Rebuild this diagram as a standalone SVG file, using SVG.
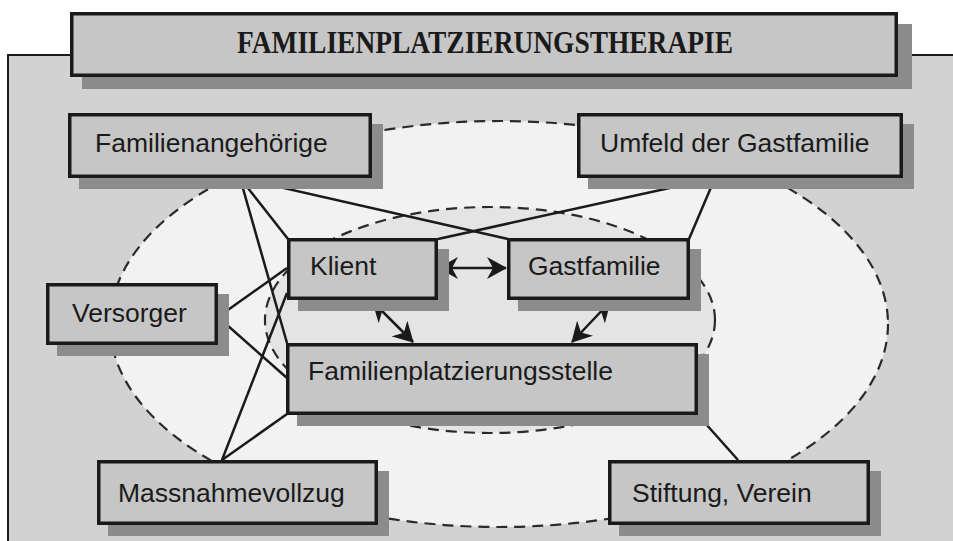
<svg xmlns="http://www.w3.org/2000/svg" width="953" height="541" viewBox="0 0 953 541">
  <defs>
    <style>
      .box { fill: #c6c6c6; stroke: #1a1a1a; stroke-width: 3.5; }
      .shadow { fill: #8c8c8c; stroke: none; }
      .lbl { font-family: "Liberation Sans", Arial, sans-serif; font-size: 26.5px; fill: #1a1a1a; }
      .title { font-family: "Liberation Serif", "Times New Roman", serif; font-size: 31px; font-weight: bold; fill: #1a1a1a; }
      .conn { stroke: #1a1a1a; stroke-width: 2.5; fill: none; }
      .arrow { stroke: #1a1a1a; stroke-width: 2.5; fill: none; marker-start: url(#head); marker-end: url(#head); }
      .dash { fill: none; stroke: #2a2a2a; stroke-width: 2.2; stroke-dasharray: 11 7; }
    </style>
    <marker id="head" viewBox="0 0 20 22" refX="19" refY="11" markerWidth="20" markerHeight="22" markerUnits="userSpaceOnUse" orient="auto-start-reverse">
      <path d="M0,0 L20,11 L0,22 L6,11 z" fill="#1a1a1a"/>
    </marker>
  </defs>

  <rect x="0" y="0" width="953" height="541" fill="#ffffff"/>

  <!-- panel -->
  <g id="panel">
    <rect x="8" y="55" width="960" height="500" fill="#d2d2d2" stroke="#1a1a1a" stroke-width="2"/>
    <ellipse cx="499" cy="324" rx="389" ry="203" fill="#f2f2f2"/>
    <ellipse cx="490" cy="320" rx="225" ry="113" fill="#e4e4e4"/>
    <ellipse class="dash" cx="499" cy="324" rx="389" ry="203"/>
    <ellipse class="dash" cx="490" cy="320" rx="225" ry="113"/>
  </g>

  <!-- connectors -->
  <g id="connectors">
    <line class="conn" x1="240" y1="178" x2="288" y2="239"/>
    <line class="conn" x1="240" y1="178" x2="287" y2="343"/>
    <line class="conn" x1="240" y1="178" x2="508" y2="239"/>
    <line class="conn" x1="715" y1="178" x2="438" y2="239"/>
    <line class="conn" x1="715" y1="178" x2="689" y2="239"/>
    <line class="conn" x1="218" y1="317" x2="287" y2="268"/>
    <line class="conn" x1="218" y1="317" x2="287" y2="378"/>
    <line class="conn" x1="222" y1="460" x2="287" y2="293"/>
    <line class="conn" x1="222" y1="460" x2="287" y2="414"/>
    <line class="conn" x1="697" y1="414" x2="738" y2="460"/>
    <line class="arrow" x1="439" y1="268" x2="506" y2="268"/>
    <line class="arrow" x1="373" y1="302" x2="413" y2="342"/>
    <line class="arrow" x1="610" y1="302" x2="572" y2="342"/>
  </g>

  <!-- title -->
  <g id="title">
    <rect class="shadow" x="82" y="24" width="830" height="65"/>
    <rect class="box" x="71.75" y="13.75" width="824.5" height="61.5"/>
    <text class="title" x="485" y="53" text-anchor="middle" textLength="496" lengthAdjust="spacingAndGlyphs">FAMILIENPLATZIERUNGSTHERAPIE</text>
  </g>

  <g id="familienangehoerige">
    <rect class="shadow" x="79" y="124" width="304" height="65"/>
    <rect class="box" x="69.75" y="114.75" width="300.5" height="61.5"/>
    <text class="lbl" x="95" y="152">Familienangehörige</text>
  </g>

  <g id="umfeld">
    <rect class="shadow" x="588" y="124" width="326" height="65"/>
    <rect class="box" x="578.75" y="114.75" width="322.5" height="61.5"/>
    <text class="lbl" x="600" y="152">Umfeld der Gastfamilie</text>
  </g>

  <g id="klient">
    <rect class="shadow" x="298" y="249" width="151" height="62"/>
    <rect class="box" x="288.75" y="239.75" width="147.5" height="58.5"/>
    <text class="lbl" x="310" y="275">Klient</text>
  </g>

  <g id="gastfamilie">
    <rect class="shadow" x="518" y="249" width="183" height="62"/>
    <rect class="box" x="508.75" y="239.75" width="179.5" height="58.5"/>
    <text class="lbl" x="528" y="275">Gastfamilie</text>
  </g>

  <g id="versorger">
    <rect class="shadow" x="57" y="294" width="172" height="62"/>
    <rect class="box" x="47.75" y="284.75" width="168.5" height="58.5"/>
    <text class="lbl" x="72" y="322">Versorger</text>
  </g>

  <g id="familienplatzierungsstelle">
    <rect class="shadow" x="297" y="354" width="412" height="72"/>
    <rect class="box" x="287.75" y="344.75" width="408.5" height="68.5"/>
    <text class="lbl" x="308" y="380">Familienplatzierungsstelle</text>
  </g>

  <g id="massnahmevollzug">
    <rect class="shadow" x="108" y="471" width="281" height="65"/>
    <rect class="box" x="98.75" y="461.75" width="277.5" height="61.5"/>
    <text class="lbl" x="118" y="502">Massnahmevollzug</text>
  </g>

  <g id="stiftung">
    <rect class="shadow" x="619" y="471" width="262" height="65"/>
    <rect class="box" x="609.75" y="461.75" width="258.5" height="61.5"/>
    <text class="lbl" x="632" y="502">Stiftung, Verein</text>
  </g>
</svg>
